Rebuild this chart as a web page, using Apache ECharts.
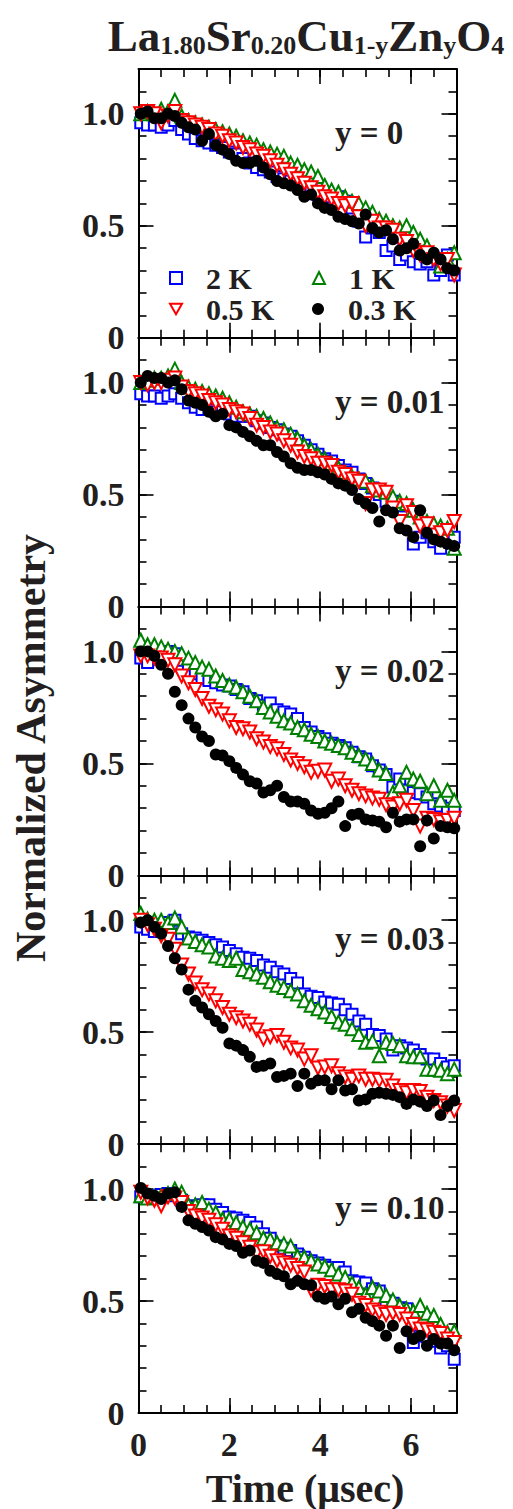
<!DOCTYPE html>
<html><head><meta charset="utf-8">
<script src="https://cdn.jsdelivr.net/npm/echarts@6/dist/echarts.min.js"></script>
<style>html,body{margin:0;padding:0;background:#fff}#c{width:513px;height:1509px}</style>
</head><body><div id="c"></div>
<script>
// ---------------- data ----------------
const times = [0.05,0.20,0.35,0.50,0.65,0.80,0.95,1.10,1.25,1.40,1.55,1.70,1.85,2.00,2.15,2.30,2.45,2.60,2.75,2.90,3.05,3.20,3.35,3.50,3.65,3.80,3.95,4.10,4.25,4.40,4.55,4.70,4.85,5.00,5.15,5.30,5.45,5.60,5.75,5.90,6.05,6.20,6.35,6.50,6.65,6.80,6.95];
const seriesNames = ['2 K','1 K','0.5 K','0.3 K'];
const panelLabels = ['y = 0','y = 0.01','y = 0.02','y = 0.03','y = 0.10'];
const xTickLabels = ['0','2','4','6'];
const yTickValues = [0,0.5,1.0];
const yTickLabels = ['0','0.5','1.0'];

// y = 0
const y000_2K  = [0.96,0.95,0.95,0.94,0.95,0.97,0.93,0.91,0.89,0.88,0.87,0.86,0.85,0.83,0.82,0.80,0.78,0.76,0.75,0.74,0.72,0.71,0.70,0.69,0.67,0.66,0.64,0.62,0.63,0.63,0.61,0.58,0.52,0.45,0.49,0.47,0.39,0.41,0.35,0.37,0.34,0.33,0.34,0.28,0.30,0.37,0.28];
const y000_1K  = [1.00,1.01,1.00,1.02,1.01,1.06,0.99,0.97,0.96,0.95,0.94,0.93,0.92,0.91,0.90,0.88,0.87,0.86,0.84,0.83,0.82,0.81,0.78,0.77,0.75,0.74,0.72,0.68,0.66,0.65,0.63,0.61,0.60,0.58,0.56,0.53,0.52,0.50,0.49,0.50,0.47,0.44,0.41,0.37,0.32,0.35,0.38];
const y000_05K = [1.00,1.01,1.00,0.96,0.99,1.01,0.97,0.96,0.95,0.94,0.93,0.91,0.90,0.88,0.87,0.85,0.84,0.82,0.81,0.79,0.77,0.75,0.73,0.71,0.69,0.67,0.65,0.63,0.62,0.60,0.59,0.60,0.54,0.50,0.52,0.49,0.49,0.48,0.44,0.43,0.39,0.37,0.38,0.35,0.33,0.35,0.28];
const y000_03K = [1.00,1.01,0.98,0.98,1.00,0.99,0.96,0.94,0.93,0.88,0.91,0.86,0.84,0.82,0.79,0.78,0.78,0.79,0.76,0.73,0.70,0.69,0.68,0.66,0.63,0.64,0.60,0.58,0.57,0.54,0.53,0.52,0.51,0.55,0.49,0.47,0.48,0.44,0.39,0.40,0.42,0.37,0.35,0.38,0.35,0.31,0.30];
// y = 0.01
const y001_2K  = [0.95,0.94,0.94,0.93,0.94,0.95,0.93,0.91,0.89,0.88,0.88,0.87,0.87,0.86,0.85,0.85,0.85,0.83,0.82,0.80,0.79,0.77,0.76,0.74,0.72,0.70,0.68,0.66,0.65,0.63,0.61,0.60,0.57,0.55,0.53,0.50,0.47,0.47,0.45,0.45,0.28,0.31,0.33,0.29,0.26,0.30,0.31];
const y001_1K  = [1.00,1.01,1.02,1.02,1.03,1.06,1.00,0.98,0.97,0.96,0.95,0.94,0.93,0.91,0.89,0.87,0.86,0.85,0.84,0.82,0.80,0.79,0.77,0.75,0.72,0.70,0.68,0.66,0.64,0.62,0.60,0.58,0.57,0.56,0.54,0.52,0.51,0.49,0.47,0.46,0.43,0.40,0.38,0.37,0.36,0.35,0.26];
const y001_05K = [1.00,0.99,1.00,1.00,1.01,1.02,0.98,0.96,0.95,0.94,0.92,0.91,0.90,0.88,0.87,0.86,0.84,0.81,0.80,0.78,0.77,0.74,0.72,0.69,0.67,0.66,0.64,0.64,0.63,0.60,0.59,0.57,0.56,0.46,0.52,0.52,0.51,0.44,0.38,0.45,0.42,0.36,0.37,0.32,0.33,0.34,0.38];
const y001_03K = [1.00,1.03,1.02,1.02,1.00,1.01,0.97,0.92,0.91,0.90,0.87,0.85,0.86,0.81,0.80,0.78,0.76,0.74,0.72,0.72,0.69,0.67,0.64,0.62,0.61,0.61,0.60,0.59,0.57,0.55,0.54,0.52,0.48,0.46,0.44,0.38,0.43,0.42,0.35,0.34,0.31,0.43,0.33,0.30,0.29,0.28,0.27];
// y = 0.02
const y002_2K  = [0.97,0.95,0.99,1.00,1.00,0.99,0.96,0.94,0.90,0.88,0.87,0.86,0.85,0.845,0.83,0.82,0.79,0.78,0.76,0.77,0.74,0.73,0.72,0.70,0.66,0.64,0.62,0.61,0.59,0.58,0.57,0.55,0.53,0.52,0.49,0.47,0.45,0.395,0.43,0.38,0.37,0.365,0.35,0.32,0.31,0.30,0.29];
const y002_1K  = [1.05,1.03,1.03,1.02,1.01,1.00,0.99,0.97,0.95,0.93,0.92,0.89,0.87,0.85,0.84,0.82,0.80,0.78,0.75,0.73,0.71,0.69,0.68,0.66,0.65,0.63,0.62,0.60,0.59,0.58,0.57,0.55,0.535,0.52,0.50,0.47,0.455,0.37,0.40,0.46,0.43,0.42,0.365,0.40,0.335,0.38,0.335];
const y002_05K = [0.98,0.98,0.97,0.97,0.96,0.94,0.89,0.86,0.83,0.79,0.755,0.74,0.72,0.69,0.66,0.655,0.64,0.61,0.595,0.575,0.565,0.54,0.515,0.50,0.485,0.46,0.465,0.47,0.42,0.43,0.40,0.38,0.365,0.355,0.345,0.34,0.315,0.305,0.32,0.335,0.29,0.22,0.255,0.25,0.24,0.245,0.255];
const y002_03K = [1.00,1.00,0.98,0.94,0.90,0.82,0.76,0.70,0.66,0.62,0.60,0.54,0.535,0.51,0.48,0.45,0.42,0.41,0.37,0.38,0.40,0.35,0.33,0.33,0.32,0.29,0.275,0.28,0.30,0.33,0.22,0.27,0.275,0.25,0.245,0.24,0.215,0.28,0.24,0.25,0.25,0.13,0.245,0.165,0.22,0.215,0.21];
// y = 0.03
const y003_2K  = [0.97,0.96,0.95,0.95,0.99,1.00,0.94,0.925,0.92,0.91,0.90,0.89,0.88,0.865,0.85,0.835,0.83,0.82,0.80,0.79,0.77,0.76,0.74,0.72,0.67,0.66,0.655,0.635,0.63,0.625,0.60,0.58,0.55,0.535,0.49,0.485,0.47,0.42,0.44,0.43,0.42,0.40,0.38,0.38,0.36,0.345,0.35];
const y003_1K  = [1.03,1.005,1.00,1.00,0.99,1.01,0.97,0.92,0.905,0.89,0.88,0.84,0.83,0.82,0.83,0.78,0.77,0.76,0.745,0.725,0.71,0.70,0.685,0.67,0.64,0.62,0.605,0.59,0.57,0.545,0.535,0.515,0.49,0.455,0.46,0.395,0.455,0.45,0.44,0.395,0.39,0.39,0.335,0.335,0.33,0.315,0.335];
const y003_05K = [1.00,0.98,0.96,0.93,0.915,0.87,0.80,0.76,0.72,0.69,0.67,0.64,0.61,0.58,0.565,0.55,0.535,0.51,0.47,0.48,0.485,0.455,0.43,0.42,0.38,0.395,0.34,0.345,0.35,0.315,0.30,0.29,0.305,0.29,0.29,0.285,0.285,0.26,0.24,0.23,0.24,0.235,0.21,0.195,0.185,0.17,0.15];
const y003_03K = [0.99,1.00,0.97,0.94,0.885,0.83,0.78,0.69,0.64,0.61,0.58,0.55,0.52,0.45,0.44,0.42,0.39,0.345,0.35,0.36,0.30,0.305,0.315,0.26,0.315,0.27,0.285,0.285,0.245,0.285,0.24,0.245,0.195,0.20,0.225,0.23,0.225,0.22,0.21,0.18,0.20,0.19,0.17,0.195,0.13,0.17,0.195];
// y = 0.10
const y010_2K  = [0.965,0.965,0.97,0.975,0.98,0.97,0.95,0.925,0.92,0.93,0.93,0.91,0.895,0.875,0.87,0.86,0.85,0.83,0.80,0.78,0.745,0.735,0.725,0.71,0.695,0.68,0.67,0.66,0.65,0.65,0.63,0.59,0.585,0.58,0.555,0.545,0.50,0.49,0.47,0.465,0.315,0.345,0.34,0.32,0.29,0.30,0.24];
const y010_1K  = [0.97,0.96,0.965,0.97,0.98,1.00,0.985,0.93,0.93,0.94,0.91,0.895,0.865,0.865,0.85,0.83,0.82,0.805,0.78,0.775,0.76,0.755,0.745,0.70,0.695,0.68,0.665,0.655,0.64,0.62,0.605,0.58,0.56,0.53,0.56,0.545,0.525,0.505,0.48,0.465,0.455,0.48,0.445,0.435,0.395,0.36,0.365];
const y010_05K = [0.985,0.96,0.95,0.925,0.965,0.96,0.94,0.90,0.88,0.87,0.86,0.84,0.82,0.79,0.78,0.76,0.74,0.715,0.72,0.70,0.68,0.67,0.66,0.645,0.63,0.55,0.57,0.565,0.55,0.55,0.545,0.53,0.49,0.48,0.46,0.45,0.44,0.445,0.44,0.42,0.395,0.375,0.37,0.36,0.355,0.33,0.315];
const y010_03K = [1.005,0.98,0.97,0.955,0.98,0.985,0.92,0.86,0.845,0.83,0.815,0.785,0.775,0.755,0.745,0.715,0.725,0.68,0.67,0.635,0.62,0.61,0.575,0.59,0.575,0.57,0.52,0.51,0.52,0.485,0.51,0.45,0.465,0.425,0.41,0.39,0.345,0.39,0.29,0.365,0.33,0.345,0.30,0.33,0.31,0.31,0.28];

const panels = [
  [y000_2K, y000_1K, y000_05K, y000_03K],
  [y001_2K, y001_1K, y001_05K, y001_03K],
  [y002_2K, y002_1K, y002_05K, y002_03K],
  [y003_2K, y003_1K, y003_05K, y003_03K],
  [y010_2K, y010_1K, y010_05K, y010_03K]
];

// ---------------- styling / layout ----------------
const FONT = "'Liberation Serif','Times New Roman',serif";
const INK = '#231f20';
const GL = 138.5, GW = 318, GT = 69, GH = 268.8;
const markStyles = [
  {symbol:'emptyRect', symbolSize:11, color:'#0000ff', symbolRotate:0},
  {symbol:'emptyTriangle', symbolSize:13, color:'#008000', symbolRotate:0},
  {symbol:'emptyTriangle', symbolSize:13, color:'#ff0000', symbolRotate:180},
  {symbol:'circle', symbolSize:12, color:'#000000', symbolRotate:0}
];

const grids = [], xAxes = [], yAxes = [], series = [], graphics = [];
const lineStyle = {color:'#000', width:2};
const tickStyle = {color:'#000', width:1.6};
const labelFont = {fontFamily:FONT, fontWeight:'bold', fontSize:34, color:INK};

for (let g = 0; g < 5; g++) {
  grids.push({left:GL, top:GT + g*GH, width:GW, height:GH, containLabel:false});
  const last = (g === 4);
  const xb = {type:'value', gridIndex:g, min:0, max:7, splitLine:{show:false}};
  const yb = {type:'value', gridIndex:g, min:0, max:1.2, splitLine:{show:false}};
  xAxes.push(Object.assign({}, xb, {position:'bottom', interval:0.5,
    axisLine:{show:true, onZero:false, lineStyle},
    axisTick:{show:true, inside:true, length:8, lineStyle:tickStyle},
    axisLabel:{show:last, margin:18, lineHeight:26, ...labelFont,
      formatter:(v)=> xTickLabels.indexOf(String(Math.round(v*100)/100)) >= 0 ? String(Math.round(v*100)/100) : ''}}));
  xAxes.push(Object.assign({}, xb, {position:'bottom', interval:2,
    axisLine:{show:false, onZero:false}, axisTick:{show:true, inside:true, length:15, lineStyle:tickStyle}, axisLabel:{show:false}}));
  xAxes.push(Object.assign({}, xb, {position:'top', interval:0.5,
    axisLine:{show:true, onZero:false, lineStyle}, axisTick:{show:true, inside:true, length:8, lineStyle:tickStyle}, axisLabel:{show:false}}));
  xAxes.push(Object.assign({}, xb, {position:'top', interval:2,
    axisLine:{show:false, onZero:false}, axisTick:{show:true, inside:true, length:15, lineStyle:tickStyle}, axisLabel:{show:false}}));
  yAxes.push(Object.assign({}, yb, {position:'left', interval:0.1,
    axisLine:{show:true, onZero:false, lineStyle},
    axisTick:{show:true, inside:true, length:8, lineStyle:tickStyle},
    axisLabel:{show:true, margin:14, ...labelFont, showMaxLabel:false,
      formatter:(v)=>{ for (let k=0;k<yTickValues.length;k++){ if (Math.abs(v-yTickValues[k])<1e-6) return yTickLabels[k]; } return ''; }}}));
  yAxes.push(Object.assign({}, yb, {position:'left', interval:0.5,
    axisLine:{show:false, onZero:false}, axisTick:{show:true, inside:true, length:15, lineStyle:tickStyle}, axisLabel:{show:false}}));
  yAxes.push(Object.assign({}, yb, {position:'right', interval:0.1,
    axisLine:{show:true, onZero:false, lineStyle}, axisTick:{show:true, inside:true, length:8, lineStyle:tickStyle}, axisLabel:{show:false}}));
  yAxes.push(Object.assign({}, yb, {position:'right', interval:0.5,
    axisLine:{show:false, onZero:false}, axisTick:{show:true, inside:true, length:15, lineStyle:tickStyle}, axisLabel:{show:false}}));

  panels[g].forEach((vals, s) => {
    const st = markStyles[s];
    series.push({
      type:'scatter', name:seriesNames[s], xAxisIndex:4*g, yAxisIndex:4*g,
      symbol:st.symbol, symbolSize:st.symbolSize, symbolRotate:st.symbolRotate,
      itemStyle:{color:st.color, opacity:1},
      emphasis:{disabled:true}, silent:true, animation:false, z:2+s,
      data: times.map((t,i)=>[t, vals[i]])
    });
  });

  graphics.push({type:'text', x:335, y:GT + g*GH + 64,
    style:{text:panelLabels[g], fontFamily:FONT, fontWeight:'bold', fontSize:33, fill:INK, align:'left', verticalAlign:'middle'}});
}

graphics.push({type:'text', x:306, y:7,
  style:{text:'{m|La}{s|1.80}{m|Sr}{s|0.20}{m|Cu}{s|1-y}{m|Zn}{s|y}{m|O}{s|4}',
    align:'center', verticalAlign:'top', fill:INK,
    rich:{
      m:{fontFamily:FONT, fontWeight:'bold', fontSize:45, lineHeight:51, verticalAlign:'bottom', fill:INK},
      s:{fontFamily:FONT, fontWeight:'bold', fontSize:26, lineHeight:36, verticalAlign:'bottom', fill:INK}
    }}});
graphics.push({type:'text', x:305, y:1488,
  style:{text:'Time (\u03bcsec)', fontFamily:FONT, fontWeight:'bold', fontSize:40, lineHeight:38, fill:INK, align:'center', verticalAlign:'middle'}});
graphics.push({type:'text', x:31, y:748, rotation:Math.PI/2,
  style:{text:'Normalized Asymmetry', fontFamily:FONT, fontWeight:'bold', fontSize:42, fill:INK, align:'center', verticalAlign:'middle'}});

const legendText = {fontFamily:FONT, fontWeight:'bold', fontSize:30, lineHeight:27, color:INK, padding:[0,0,0,19], width:80};
const legendBase = {left:169, itemWidth:12, itemHeight:12, itemGap:26, padding:0, selectedMode:false, orient:'horizontal', textStyle:legendText};
const downTri = 'path://M0,0L12,0L6,10.4Z';

const chart = echarts.init(document.getElementById('c'), null, {renderer:'svg'});
chart.setOption({
  animation:false,
  backgroundColor:'#fff',
  grid:grids, xAxis:xAxes, yAxis:yAxes, series,
  legend:[
    Object.assign({}, legendBase, {top:263, data:[seriesNames[0], seriesNames[1]]}),
    Object.assign({}, legendBase, {top:294, data:[
      {name:seriesNames[2], icon:downTri, itemStyle:{color:'#ffffff', borderColor:'#ff0000', borderWidth:2}},
      seriesNames[3]
    ]})
  ],
  graphic:graphics
});
</script></body></html>
